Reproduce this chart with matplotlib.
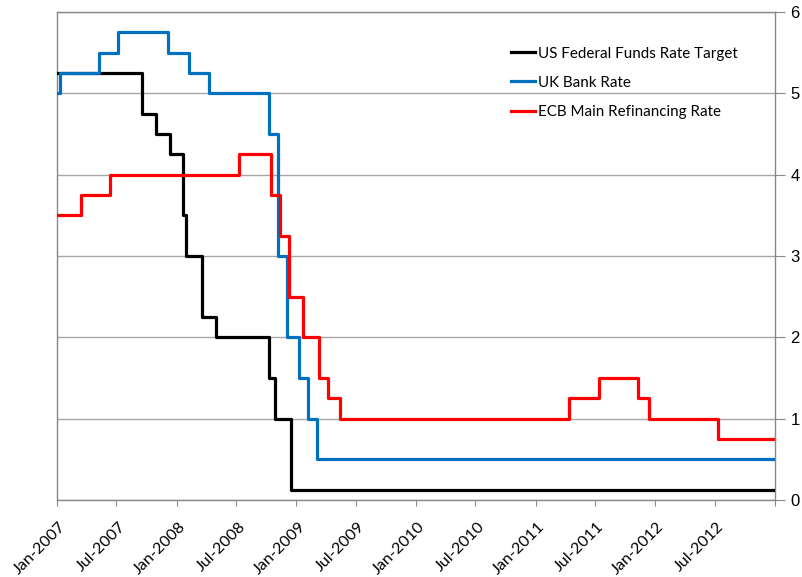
import datetime as dt
import matplotlib
matplotlib.use('Agg')
import matplotlib.pyplot as plt
import matplotlib.transforms as mtransforms

# rate change dates and levels (step data)
us_dates = ['2007-01-01', '2007-09-18', '2007-10-31', '2007-12-11', '2008-01-22', '2008-01-30',
            '2008-03-18', '2008-04-30', '2008-10-08', '2008-10-29', '2008-12-16', '2012-12-31']
us_rates = [5.25, 4.75, 4.50, 4.25, 3.50, 3.00, 2.25, 2.00, 1.50, 1.00, 0.125, 0.125]

uk_dates = ['2007-01-01', '2007-01-11', '2007-05-10', '2007-07-05', '2007-12-06', '2008-02-07',
            '2008-04-10', '2008-10-08', '2008-11-06', '2008-12-04', '2009-01-08', '2009-02-05',
            '2009-03-05', '2012-12-31']
uk_rates = [5.00, 5.25, 5.50, 5.75, 5.50, 5.25, 5.00, 4.50, 3.00, 2.00, 1.50, 1.00, 0.50, 0.50]

ecb_dates = ['2007-01-01', '2007-03-14', '2007-06-13', '2008-07-09', '2008-10-15', '2008-11-12',
             '2008-12-10', '2009-01-21', '2009-03-11', '2009-04-08', '2009-05-13', '2011-04-13',
             '2011-07-13', '2011-11-09', '2011-12-14', '2012-07-11', '2012-12-31']
ecb_rates = [3.50, 3.75, 4.00, 4.25, 3.75, 3.25, 2.50, 2.00, 1.50, 1.25, 1.00, 1.25,
             1.50, 1.25, 1.00, 0.75, 0.75]

series = [
    ('US Federal Funds Rate Target', us_dates, us_rates, '#000000'),
    ('UK Bank Rate', uk_dates, uk_rates, '#0070C0'),
    ('ECB Main Refinancing Rate', ecb_dates, ecb_rates, '#FF0000'),
]

def to_dt(lst):
    return [dt.datetime.strptime(s, '%Y-%m-%d') for s in lst]

fig = plt.figure(figsize=(8.03, 5.77), dpi=100)
W, H = 803, 577
ax = fig.add_axes([57 / W, 1 - 500 / H, (775 - 57) / W, (500 - 12) / H])

for name, d, r, c in series:
    ax.step(to_dt(d), r, where='post', color=c, linewidth=2.3, label=name, zorder=3)

ax.set_xlim(dt.datetime(2007, 1, 1), dt.datetime(2013, 1, 1))
ax.set_ylim(0, 6)

ticks = [dt.datetime(2007 + i // 2, 1 + 6 * (i % 2), 1) for i in range(13)]
ax.set_xticks(ticks)
ax.set_xticklabels([t.strftime('%b-%Y') for t in ticks[:-1]] + [''],
                   rotation=45, ha='right', va='center', rotation_mode='anchor',
                   fontsize=11.6, family='Lato')
ax.tick_params(axis='x', direction='out', length=4, color='#888888', pad=14)
shift = mtransforms.ScaledTranslation(7 / 100, 0, fig.dpi_scale_trans)
for lab in ax.get_xticklabels():
    lab.set_transform(lab.get_transform() + shift)

ax.yaxis.tick_right()
ax.set_yticks(range(7))
ax.set_yticklabels([str(i) for i in range(7)], fontsize=12, family='Liberation Sans')
ax.tick_params(axis='y', direction='out', length=7, color='#888888', pad=4)

ax.grid(True, axis='y', color='#A6A6A6', linewidth=1)
ax.set_axisbelow(True)
for s in ax.spines.values():
    s.set_color('#888888')
    s.set_linewidth(1)

leg = ax.legend(loc='upper left', bbox_to_anchor=(497 / W, 1 - 33 / H),
                bbox_transform=fig.transFigure, frameon=False,
                prop={'family': 'Lato', 'size': 10.9}, handlelength=1.6,
                handletextpad=0.2, labelspacing=1.0)
for line in leg.get_lines():
    line.set_linewidth(2.3)

fig.savefig('out.png', dpi=100)
